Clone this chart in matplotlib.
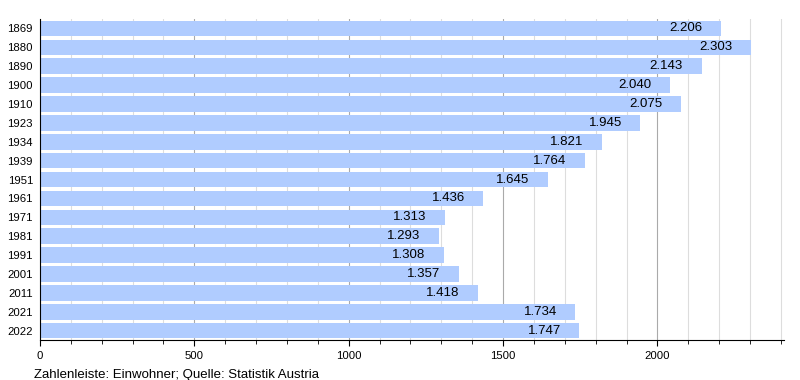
import matplotlib.pyplot as plt
from matplotlib.ticker import MultipleLocator

# Einwohnerentwicklung (Statistik Austria)
years = ['1869', '1880', '1890', '1900', '1910', '1923', '1934', '1939', '1951',
         '1961', '1971', '1981', '1991', '2001', '2011', '2021', '2022']
population = [2206, 2303, 2143, 2040, 2075, 1945, 1821, 1764, 1645,
              1436, 1313, 1293, 1308, 1357, 1418, 1734, 1747]

plt.rcParams['font.family'] = ['Liberation Sans', 'DejaVu Sans']

fig = plt.figure(figsize=(8, 3.8), dpi=100)
ax = fig.add_axes([0.05, 0.105, 0.93, 0.845])

pos = list(range(len(years)))
ax.barh(pos, population, height=0.82, color='#b0ccff', zorder=2)

for p, v in zip(pos, population):
    label = f'{v:,}'.replace(',', '.')
    ax.text(v - 60, p, label, ha='right', va='center', fontsize=9.5, zorder=3)

ax.set_ylim(len(years) - 0.5, -0.5)
ax.set_yticks(pos)
ax.set_yticklabels(years, fontsize=8.2)
ax.tick_params(axis='y', length=0, pad=5)

ax.set_xlim(0, 2410)
ax.xaxis.set_major_locator(MultipleLocator(500))
ax.xaxis.set_minor_locator(MultipleLocator(100))
ax.tick_params(axis='x', which='major', labelsize=8.2, length=4, direction='out')
ax.tick_params(axis='x', which='minor', length=3, direction='out')
ax.grid(axis='x', which='minor', color='#dddddd', linewidth=0.8, zorder=0)
ax.grid(axis='x', which='major', color='#aaaaaa', linewidth=0.8, zorder=0)

ax.spines['top'].set_visible(False)
ax.spines['right'].set_visible(False)

fig.text(0.043, 0.005, 'Zahlenleiste: Einwohner; Quelle: Statistik Austria', fontsize=9.5)

plt.savefig('out.png', dpi=100)
